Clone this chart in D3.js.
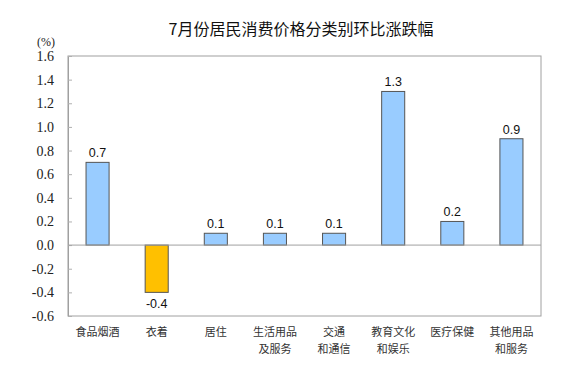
<!DOCTYPE html>
<html>
<head>
<meta charset="utf-8">
<script src="https://cdn.jsdelivr.net/npm/d3@7"></script>
<style>
  body { margin: 0; background: #fff; }
</style>
</head>
<body>
<svg id="chart" width="583" height="370"></svg>
<script>
const categories = ['食品烟酒', '衣着', '居住', '生活用品\n及服务', '交通\n和通信', '教育文化\n和娱乐', '医疗保健', '其他用品\n和服务'];
const values = [0.7, -0.4, 0.1, 0.1, 0.1, 1.3, 0.2, 0.9];
const yTicks = [1.6, 1.4, 1.2, 1.0, 0.8, 0.6, 0.4, 0.2, 0.0, -0.2, -0.4, -0.6];
const title = '7月份居民消费价格分类别环比涨跌幅';

const svg = d3.select('#chart');
const margin = {top: 56, right: 42, bottom: 54, left: 68};
const width = 583 - margin.left - margin.right;
const height = 370 - margin.top - margin.bottom;
const cjk = '"Noto Sans CJK SC", sans-serif';
const fmt = d => d.toFixed(1);

const x = d3.scaleBand().domain(categories).range([0, width]).paddingInner(0.61).paddingOuter(0.305);
const y = d3.scaleLinear().domain([-0.6, 1.6]).range([height, 0]);

const g = svg.append('g').attr('transform', `translate(${margin.left},${margin.top})`);

svg.append('text')
    .attr('x', 301)
    .attr('y', 35)
    .attr('text-anchor', 'middle')
    .attr('font-family', cjk)
    .attr('font-size', '16px')
    .attr('fill', '#111')
    .text(title);

svg.append('text')
    .attr('x', 46)
    .attr('y', 46)
    .attr('text-anchor', 'middle')
    .attr('font-family', '"Liberation Serif", serif')
    .attr('font-size', '12px')
    .attr('fill', '#222')
    .text('(%)');

// plot frame
g.append('rect')
    .attr('width', width)
    .attr('height', height)
    .attr('fill', 'none')
    .attr('stroke', '#a0a0a0')
    .attr('stroke-width', 1);

const yAxis = g.append('g')
    .call(d3.axisLeft(y).tickValues(yTicks).tickFormat(fmt).tickSizeInner(-4).tickSizeOuter(0).tickPadding(14));
yAxis.select('.domain').attr('stroke', '#a0a0a0');
yAxis.selectAll('.tick line').attr('stroke', '#b0b0b0');
yAxis.selectAll('text')
    .attr('font-family', '"Liberation Serif", serif')
    .attr('font-size', '14px')
    .attr('fill', '#222');

g.selectAll('.bar')
    .data(values)
    .enter().append('rect')
    .attr('class', 'bar')
    .attr('x', (d, i) => x(categories[i]))
    .attr('y', d => y(Math.max(0, d)))
    .attr('width', x.bandwidth())
    .attr('height', d => Math.abs(y(d) - y(0)))
    .attr('fill', d => d < 0 ? '#FFC000' : '#99CCFF')
    .attr('stroke', '#555')
    .attr('stroke-width', 1);

// zero line
g.append('line')
    .attr('x1', 0).attr('x2', width)
    .attr('y1', y(0)).attr('y2', y(0))
    .attr('stroke', '#a0a0a0');

g.selectAll('.val')
    .data(values)
    .enter().append('text')
    .attr('class', 'val')
    .attr('x', (d, i) => x(categories[i]) + x.bandwidth() / 2)
    .attr('y', d => d < 0 ? y(d) + 16 : y(d) - 5)
    .attr('text-anchor', 'middle')
    .attr('font-family', '"Liberation Sans", Arial, sans-serif')
    .attr('font-size', '12.5px')
    .attr('fill', '#111')
    .text(fmt);

const labels = g.selectAll('.cat')
    .data(categories)
    .enter().append('text')
    .attr('class', 'cat')
    .attr('x', d => x(d) + x.bandwidth() / 2)
    .attr('y', height + 20)
    .attr('text-anchor', 'middle')
    .attr('font-family', cjk)
    .attr('font-size', '11px')
    .attr('fill', '#333');
labels.each(function (d) {
    const t = d3.select(this);
    d.split('\n').forEach((line, i) => {
        t.append('tspan')
            .attr('x', x(d) + x.bandwidth() / 2)
            .attr('dy', i === 0 ? 0 : 17)
            .text(line);
    });
});
</script>
</body>
</html>
